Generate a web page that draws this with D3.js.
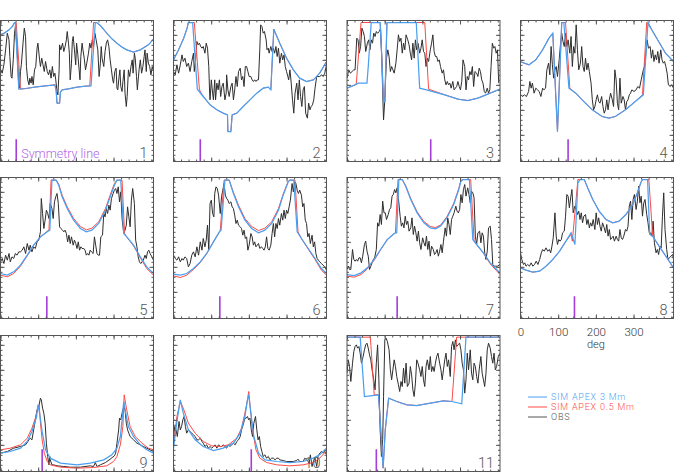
<!DOCTYPE html>
<html>
<head>
<meta charset="utf-8">
<script src="https://cdn.jsdelivr.net/npm/d3@7"></script>
<style>
  body { margin: 0; background: #fff; }
  text { font-family: Roboto, 'DejaVu Sans', sans-serif; font-weight: 300; }
</style>
</head>
<body>
<svg width="692" height="472"></svg>
<script>
// intensity is in arbitrary counts, angle in degrees
const obsDeg1 = [0,4,8,12,16,20,22,25,27,30,33,35,39,43,45,47,49,53,56,59,61,64,67,69,72,74,77,80,83,86,88,92,94,97,100,103,106,110,113,116,119,122,125,128,130,133,135,138,139,142,146,149,152,155,157,160,162,164,167,169,171,174,177,179,182,185,187,189,192,194,197,200,203,207,210,213,216,219,222,225,229,232,235,237,239,243,246,249,252,255,258,261,264,266,269,272,274,276,279,281,283,286,288,291,293,296,298,301,304,307,310,312,315,317,320,322,326,329,332,335,338,340,343,345,348,351,354,357,360]
const obsVal1 = [275,265,290,335,385,365,315,255,250,305,385,405,335,225,220,270,290,355,400,375,285,245,230,250,235,255,230,275,285,340,355,305,285,310,290,270,300,270,260,275,250,285,255,265,245,210,200,275,350,335,355,330,345,365,390,355,325,245,295,360,375,335,290,355,320,275,245,315,355,335,310,275,295,325,355,340,365,345,385,365,335,255,295,345,310,285,330,355,365,345,305,275,245,235,270,280,220,215,255,275,225,210,240,275,205,165,195,275,255,285,305,265,325,310,255,215,275,305,265,285,315,335,270,325,295,285,260,285,270]
const sim3_1 = [[0,380],[10,386],[20,395],[28,405],[33,417],[35,417],[43,217],[60,219],[80,223],[100,226],[128,230],[131,212],[133,175],[139,175],[141,208],[145,215],[160,218],[180,223],[200,226],[213,227],[223,417],[226,417],[235,408],[250,385],[262,368],[274,355],[286,343],[297,335],[313,328],[329,335],[348,350],[360,367]]
const sim05_1 = [[0,380],[10,386],[20,395],[28,405],[33,417],[37,417],[47,217],[60,219],[80,223],[100,226],[128,230],[131,212],[133,175],[139,175],[141,208],[145,215],[160,218],[180,223],[200,226],[210,227],[219,417],[226,417],[235,408],[250,385],[262,368],[274,355],[286,343],[297,335],[313,328],[329,335],[348,350],[360,367]]

const obsDeg2 = [0,4,8,12,16,20,23,27,31,35,39,43,47,49,52,55,58,61,64,67,70,74,77,80,83,85,86,89,92,94,97,99,102,105,108,111,114,117,121,124,125,128,131,135,138,141,144,147,150,153,157,160,163,166,169,172,175,178,182,185,188,191,194,197,200,203,205,208,211,214,218,220,223,225,229,232,235,238,241,244,247,250,254,257,260,263,266,269,271,274,277,280,283,286,290,293,296,299,302,305,308,311,315,318,321,324,327,330,333,337,340,344,349,352,356,360]
const obsVal2 = [270,260,290,265,290,320,300,310,285,295,270,300,325,270,305,360,350,355,345,340,345,325,355,340,285,205,185,245,205,185,245,185,235,215,245,195,225,235,185,205,260,215,195,225,235,185,215,255,225,270,280,245,255,225,285,285,270,255,255,245,240,245,240,245,245,335,410,405,385,390,365,335,340,325,345,330,340,325,345,315,340,295,325,305,320,285,270,255,245,275,235,185,145,205,235,185,245,195,165,215,225,145,130,175,155,165,170,185,220,255,255,255,260,255,265,290]
const sim3_2 = [[0,305],[12,335],[24,370],[32,400],[35,417],[45,417],[56,217],[70,195],[86,170],[102,155],[117,145],[127,140],[128,90],[135,90],[138,140],[149,145],[164,165],[180,185],[196,205],[211,220],[223,223],[229,215],[236,397],[250,355],[266,310],[282,275],[297,250],[313,240],[329,245],[344,265],[360,300]]
const sim05_2 = [[0,305],[12,335],[24,370],[32,400],[35,417],[49,417],[61,215],[70,195],[86,170],[102,155],[117,145],[127,140],[128,90],[135,90],[138,140],[149,145],[164,165],[180,185],[196,205],[211,220],[223,223],[229,215],[236,397],[250,355],[266,310],[282,275],[297,250],[313,240],[329,245],[344,265],[360,300]]

const obsDeg3 = [0,4,8,12,16,19,23,26,29,32,35,38,41,44,48,51,54,57,60,63,66,69,72,76,79,82,84,86,89,91,93,96,99,102,105,108,111,115,118,121,124,127,130,133,136,139,143,146,149,152,155,158,161,164,167,171,174,177,180,183,186,189,192,196,199,202,205,208,211,214,217,220,224,227,230,233,236,239,242,245,249,252,255,258,261,264,267,270,273,277,280,283,286,289,292,295,298,301,305,308,311,314,317,320,323,326,330,333,336,339,342,345,348,351,354,357]
const obsVal3 = [250,275,265,270,275,275,370,365,325,345,400,390,375,330,355,365,335,365,355,385,375,390,385,390,400,305,205,125,185,255,310,335,315,270,285,275,265,295,335,380,360,370,325,355,335,380,365,350,325,305,355,310,365,335,355,325,340,365,330,325,285,310,300,335,355,380,330,315,315,300,305,285,265,275,245,230,240,230,235,220,240,215,220,225,240,225,215,240,305,285,215,255,245,270,260,285,225,270,265,255,280,270,245,235,210,205,220,205,215,285,355,340,345,325,335,235]
const sim3_3 = [[0,220],[19,230],[27,235],[47,235],[50,285],[57,417],[78,417],[81,335],[86,180],[89,180],[94,417],[163,417],[171,220],[187,215],[230,200],[261,187],[284,183],[308,190],[327,200],[360,217]]
const sim05_3 = [[0,220],[19,230],[22,235],[33,417],[78,417],[81,335],[86,180],[89,180],[94,417],[183,417],[192,217],[230,200],[261,187],[284,183],[308,190],[327,200],[360,217]]

const obsDeg4 = [0,5,9,14,19,22,25,28,32,36,40,44,48,52,55,59,62,66,69,72,75,78,81,84,87,91,94,97,100,103,106,109,112,116,119,122,125,128,131,134,137,141,144,147,150,153,156,159,162,166,169,172,175,178,181,184,187,191,194,197,200,203,206,209,212,216,219,222,225,228,231,234,237,241,244,247,250,253,256,259,262,267,272,276,280,284,289,292,295,298,301,305,308,311,314,317,320,323,326,330,333,336,339,342,345,348,352,356,360]
const obsVal4 = [200,195,200,195,210,240,220,235,205,220,215,210,195,220,215,220,275,295,260,345,290,250,275,285,255,305,350,385,360,345,385,345,365,325,375,285,345,325,410,335,275,295,345,285,270,310,275,295,270,235,185,155,165,185,200,180,175,195,165,145,155,185,155,185,205,185,165,275,245,175,155,250,175,195,185,155,180,185,200,205,215,210,215,225,220,245,275,285,325,365,340,345,310,335,300,320,305,330,295,335,305,295,300,285,265,230,225,230,220]
const sim3_4 = [[0,300],[9,295],[20,290],[36,305],[52,335],[67,370],[76,385],[87,90],[97,417],[102,417],[114,220],[130,205],[145,185],[169,155],[192,135],[208,130],[223,135],[247,155],[270,180],[289,200],[300,417],[309,395],[325,360],[341,325],[360,300]]
const sim05_4 = [[0,300],[9,295],[20,290],[36,305],[52,335],[67,370],[76,385],[87,90],[97,417],[106,417],[116,220],[130,205],[145,185],[169,155],[192,135],[208,130],[223,135],[247,155],[270,180],[287,200],[297,417],[309,395],[325,360],[341,325],[360,300]]

const obsDeg5 = [0,4,8,12,16,20,23,27,31,35,39,43,47,51,55,59,63,67,70,74,78,82,86,90,94,96,99,102,105,108,111,114,117,121,124,127,130,133,136,139,142,146,149,152,155,158,161,164,167,171,174,177,180,183,186,189,192,196,199,202,205,208,211,214,218,221,224,227,230,233,236,240,243,246,249,252,255,258,261,265,268,271,274,277,280,283,286,290,293,296,299,302,305,308,311,315,318,321,324,327,330,333,336,340,343,346,349,352,356,360]
const obsVal5 = [170,180,165,190,175,195,170,185,180,195,190,200,200,205,215,195,225,205,220,200,215,210,230,235,260,360,315,270,295,325,315,300,345,330,300,350,365,375,345,275,270,265,260,265,255,230,250,225,245,220,235,225,210,230,205,215,210,210,205,190,195,190,205,200,195,245,220,195,190,190,245,250,315,305,330,315,340,325,360,375,385,390,375,395,350,380,300,255,265,280,335,305,275,355,390,345,235,215,185,170,165,170,175,190,180,200,205,195,185,175]
const sim3_5 = [[0,135],[16,130],[31,140],[47,160],[63,190],[78,220],[94,245],[110,260],[116,265],[121,415],[131,415],[137,400],[145,365],[157,330],[172,295],[188,270],[202,260],[215,265],[231,285],[247,325],[258,365],[268,400],[274,415],[283,415],[290,255],[297,245],[313,220],[329,185],[344,155],[360,135]]
const sim05_5 = [[0,130],[16,125],[31,135],[47,157],[63,188],[78,220],[94,245],[110,262],[114,265],[119,415],[131,415],[137,403],[145,370],[157,335],[172,300],[188,276],[202,266],[215,271],[231,290],[247,330],[258,370],[268,405],[274,415],[286,415],[292,255],[297,245],[313,218],[329,182],[344,150],[360,130]]

const obsDeg6 = [0,4,8,12,16,20,23,27,31,35,39,43,47,51,55,59,63,67,70,74,77,80,83,86,89,92,95,97,100,103,106,110,113,116,119,122,125,128,131,135,138,141,144,147,150,153,157,160,163,166,169,172,175,178,182,185,188,191,194,197,200,203,207,210,213,216,219,222,225,229,232,235,238,241,244,247,250,254,257,260,263,266,269,272,275,279,282,285,288,291,294,297,301,304,307,310,313,316,319,322,326,329,332,335,338,341,344,348,352,356,360]
const obsVal6 = [190,180,175,185,170,180,175,185,180,155,165,190,200,185,215,190,230,205,240,215,235,280,205,345,355,315,305,375,395,390,370,315,365,385,405,370,360,355,345,350,335,330,310,285,295,280,275,270,250,265,240,245,205,220,255,245,220,230,215,220,225,210,215,210,205,215,245,210,205,220,255,285,245,285,270,300,280,315,295,325,300,325,315,335,355,405,380,410,405,385,375,385,370,335,345,295,285,245,255,225,250,215,230,195,180,175,170,165,160,155,145]
const sim3_6 = [[0,133],[16,130],[31,135],[47,150],[63,170],[78,195],[94,230],[108,260],[112,265],[121,415],[131,415],[141,375],[153,335],[168,295],[184,270],[200,257],[215,265],[231,285],[247,325],[258,370],[270,410],[274,415],[283,415],[291,260],[301,240],[317,210],[333,180],[348,150],[360,135]]
const sim05_6 = [[0,128],[16,123],[31,130],[47,147],[63,168],[78,194],[94,230],[108,260],[110,265],[119,415],[131,415],[141,378],[153,340],[168,300],[184,276],[200,264],[215,271],[231,290],[247,330],[258,373],[270,412],[274,415],[286,415],[293,260],[301,240],[317,208],[333,177],[348,145],[360,130]]

const obsDeg7 = [0,3,6,9,13,16,19,22,25,28,31,34,37,41,44,47,50,53,56,59,62,65,69,72,75,78,81,84,87,90,93,97,100,103,106,109,112,115,118,122,125,128,131,134,137,140,143,146,150,153,156,159,162,165,168,171,174,178,181,184,187,190,193,196,199,203,206,209,212,215,218,221,224,227,231,234,237,240,243,246,249,252,256,259,262,265,268,271,274,277,280,284,287,290,293,296,299,302,305,308,312,315,318,321,324,327,330,333,337,340,343,346,349,354,360]
const obsVal7 = [147,157,147,147,207,177,172,177,172,182,182,167,187,222,232,202,187,147,157,167,177,182,207,287,277,312,282,352,317,317,297,312,327,332,367,372,387,377,392,347,307,277,287,272,307,282,292,262,272,302,252,277,257,232,262,227,207,242,227,217,247,207,232,187,217,207,192,197,207,187,202,222,197,232,272,247,302,282,252,297,307,317,337,322,317,327,372,347,387,402,367,392,372,347,382,377,362,247,222,257,262,227,257,247,197,177,202,272,277,237,162,157,157,157,162]
const sim3_7 = [[0,132],[17,129],[33,137],[48,152],[64,177],[79,207],[95,237],[111,255],[117,257],[122,417],[130,417],[138,397],[150,357],[165,317],[181,287],[196,272],[208,269],[220,277],[235,302],[251,342],[263,387],[268,412],[273,417],[288,417],[296,237],[305,222],[321,197],[337,167],[352,147],[360,137]]
const sim05_7 = [[0,127],[17,124],[33,132],[48,149],[64,175],[79,206],[95,237],[111,255],[114,257],[120,417],[130,417],[138,399],[150,360],[165,320],[181,291],[196,276],[208,273],[220,280],[235,305],[251,345],[263,390],[268,414],[273,417],[291,417],[299,235],[305,222],[321,196],[337,164],[352,143],[360,132]]

const obsDeg8 = [0,3,7,10,13,17,21,25,29,33,37,41,45,49,52,56,60,64,68,71,74,77,81,84,87,90,93,96,99,103,106,109,112,115,118,121,124,128,131,134,137,140,143,146,149,153,156,159,162,165,168,171,175,178,181,184,187,190,193,197,200,203,206,209,212,215,218,221,225,228,231,234,237,240,243,247,250,253,256,259,262,265,268,272,275,278,281,284,287,290,293,297,300,303,306,309,312,315,319,322,325,328,331,334,337,340,344,347,350,354,358,360]
const obsVal8 = [197,177,162,167,157,162,157,167,157,162,172,162,177,197,207,202,212,202,207,197,217,242,317,247,222,237,232,237,257,262,307,372,367,332,362,387,317,337,327,312,322,297,317,287,307,312,282,297,272,287,277,297,267,317,282,302,277,262,287,272,257,282,247,267,237,242,247,232,247,237,232,267,242,237,247,267,262,277,337,352,297,357,372,327,352,397,347,367,307,347,357,312,287,257,257,247,292,227,197,207,192,217,212,307,377,267,207,177,182,187,192,177]
const sim3_8 = [[0,152],[13,145],[29,139],[45,142],[60,157],[76,177],[92,202],[107,232],[119,257],[128,222],[135,407],[140,417],[150,417],[158,392],[170,357],[185,322],[201,297],[217,287],[232,292],[248,312],[264,342],[275,377],[283,407],[287,417],[299,417],[304,252],[311,247],[326,217],[342,187],[360,152]]
const sim05_8 = [[0,152],[13,145],[29,139],[45,142],[60,157],[76,177],[92,202],[107,232],[119,252],[122,232],[135,417],[150,417],[158,392],[170,357],[185,322],[201,297],[217,287],[232,292],[248,312],[264,342],[275,377],[283,407],[287,417],[302,417],[311,247],[326,217],[342,187],[360,152]]

const obsDeg9 = [0,16,31,47,59,67,70,74,78,82,86,90,94,96,99,102,105,108,111,114,116,117,121,125,133,149,164,188,211,219,223,227,235,247,258,268,271,274,278,280,283,286,290,293,296,299,302,305,309,313,321,329,344,360]
const obsVal9 = [55,60,70,75,80,95,100,95,125,155,185,195,220,215,190,175,145,85,45,20,45,35,20,20,17,15,13,13,17,15,27,15,20,27,37,47,55,85,125,160,155,175,195,185,145,125,115,105,100,95,85,80,70,60]
const sim3_9 = [[0,55],[23,60],[47,70],[63,90],[74,120],[85,165],[88,200],[92,175],[98,120],[106,65],[117,40],[141,25],[180,20],[211,25],[243,35],[262,50],[274,70],[282,105],[286,155],[290,210],[294,180],[301,135],[313,105],[329,80],[344,65],[360,55]]
const sim05_9 = [[0,65],[23,70],[47,80],[63,100],[74,130],[82,160],[88,190],[91,200],[94,145],[98,95],[103,55],[110,30],[117,20],[141,13],[180,10],[219,12],[250,17],[266,30],[274,45],[282,80],[288,135],[291,230],[297,185],[305,135],[317,105],[333,85],[348,70],[360,65]]

const obsDeg10 = [0,3,6,9,13,16,19,22,25,28,31,35,39,43,47,51,55,59,63,67,70,74,78,82,86,90,94,98,102,106,110,113,117,121,125,129,133,137,141,145,149,153,157,160,164,168,171,174,177,180,183,186,189,193,196,199,202,205,208,211,215,219,223,227,231,235,239,243,247,250,258,266,274,282,290,293,297,305,309,313,317,319,321,322,326,329,333,337,340,344,348,352,356,360]
const obsVal10 = [105,135,125,105,150,125,135,155,165,135,115,125,120,115,110,105,95,95,100,90,85,75,80,70,75,70,75,80,70,80,75,75,80,75,70,80,75,80,85,80,90,95,105,125,140,160,160,165,155,160,125,105,145,165,125,95,105,75,60,45,50,40,45,35,40,40,35,40,40,35,33,30,30,30,33,37,30,30,40,35,30,25,40,50,15,30,40,15,45,55,60,55,60,50]
const sim3_10 = [[0,70],[8,150],[16,215],[23,175],[35,125],[51,95],[70,75],[94,63],[117,70],[141,85],[157,115],[168,165],[174,215],[177,230],[182,175],[189,105],[200,55],[215,35],[243,30],[274,27],[305,30],[329,40],[344,50],[360,70]]
const sim05_10 = [[0,80],[8,165],[16,210],[23,190],[35,145],[51,115],[70,90],[90,77],[110,75],[129,80],[149,100],[160,130],[168,175],[174,215],[177,240],[180,200],[186,125],[194,65],[203,40],[219,27],[243,20],[274,17],[305,20],[329,27],[344,40],[360,62]]

const obsDeg11 = [0,3,6,9,13,16,19,22,25,28,31,34,38,41,44,47,50,53,56,59,63,66,69,72,75,78,81,84,86,89,92,95,99,102,105,108,111,114,117,121,124,127,130,133,136,139,142,146,149,152,155,158,161,164,167,171,174,177,180,183,186,189,193,196,199,202,205,208,211,214,218,221,224,227,230,233,236,239,243,246,249,252,255,258,261,265,268,271,274,277,280,283,286,290,293,296,299,302,305,308,311,315,318,321,324,327,330,333,337,340,343,346,349,352,356,360]
const obsVal11 = [295,335,315,270,325,360,375,380,370,375,355,325,345,365,380,385,370,350,335,305,275,245,325,380,275,125,45,95,225,395,400,390,365,305,275,305,335,315,285,260,240,270,255,310,265,325,255,265,315,290,245,225,265,335,325,305,285,315,275,255,315,335,305,345,300,315,300,325,345,355,325,305,275,305,335,355,315,335,285,375,390,365,395,375,380,385,365,325,305,235,275,355,305,365,295,275,325,315,285,265,305,345,295,275,255,295,365,385,370,345,325,355,305,315,345,355]
const sim3_11 = [[0,403],[31,403],[41,225],[55,227],[74,230],[77,175],[85,10],[90,125],[98,220],[117,210],[141,200],[164,198],[196,205],[227,212],[247,210],[270,203],[280,403],[360,403]]
const sim05_11 = [[0,403],[55,403],[64,230],[74,230],[77,175],[85,10],[90,125],[98,220],[117,210],[141,200],[164,198],[196,205],[227,212],[247,210],[258,403],[360,403]]

// symmetry line longitude for each panel, degrees
const symmetry = [37, 63, 197, 112, 109, 109, 118, 127, 98, 183, 69]
const symLength = 67

// the frame axis runs a little past the sampled range
const axisMax = 406
const xLabelTicks = [0, 100, 200, 300]
const xMinorStep = 20
const yMajorTicks = [80, 155, 230, 305, 380]
const yMinorStep = 15

const legendLabels = ['SIM APEX 3 Mm', 'SIM APEX 0.5 Mm', 'OBS']

const blue = '#4a9ff0', red = '#ff4a44', obsColor = '#2e2e2e', purple = '#a23ed9', frame = '#555'
const legendColors = [blue, red, '#555']

const colLeft = [0.5, 173.5, 347, 520.5]
const rowTop = [20.5, 177.5, 335.5]
const rowHeight = [141, 141, 136]
const rowRange = [423, 423, 408]
const panelWidth = 153

const panels = [
  [obsDeg1, obsVal1, sim3_1, sim05_1],
  [obsDeg2, obsVal2, sim3_2, sim05_2],
  [obsDeg3, obsVal3, sim3_3, sim05_3],
  [obsDeg4, obsVal4, sim3_4, sim05_4],
  [obsDeg5, obsVal5, sim3_5, sim05_5],
  [obsDeg6, obsVal6, sim3_6, sim05_6],
  [obsDeg7, obsVal7, sim3_7, sim05_7],
  [obsDeg8, obsVal8, sim3_8, sim05_8],
  [obsDeg9, obsVal9, sim3_9, sim05_9],
  [obsDeg10, obsVal10, sim3_10, sim05_10],
  [obsDeg11, obsVal11, sim3_11, sim05_11]
]

const svg = d3.select('svg')
const defs = svg.append('defs')

panels.forEach(function(p, i) {
  const col = i % 4,
    row = Math.floor(i / 4)
  const x0 = colLeft[col],
    y0 = rowTop[row],
    h = rowHeight[row]

  const x = d3.scaleLinear().domain([0, 360]).range([x0, x0 + panelWidth])
  const xAxisScale = d3.scaleLinear().domain([0, axisMax]).range([x0, x0 + panelWidth])
  const y = d3.scaleLinear().domain([0, rowRange[row]]).range([y0 + h, y0])

  defs
    .append('clipPath')
    .attr('id', 'clip' + i)
    .append('rect')
    .attr('x', x0)
    .attr('y', y0)
    .attr('width', panelWidth)
    .attr('height', h)

  const line = d3
    .line()
    .x(d => x(d[0]))
    .y(d => y(d[1]))

  const g = svg.append('g')
  const plot = g.append('g').attr('clip-path', 'url(#clip' + i + ')')

  plot
    .append('path')
    .datum(d3.zip(p[0], p[1]))
    .attr('d', line)
    .attr('fill', 'none')
    .attr('stroke', obsColor)
    .attr('stroke-width', 1)
  plot
    .append('path')
    .datum(p[3])
    .attr('d', line)
    .attr('fill', 'none')
    .attr('stroke', red)
    .attr('stroke-width', 1)
  plot
    .append('path')
    .datum(p[2])
    .attr('d', line)
    .attr('fill', 'none')
    .attr('stroke', blue)
    .attr('stroke-width', 1.25)

  plot
    .append('line')
    .attr('x1', x(symmetry[i]))
    .attr('x2', x(symmetry[i]))
    .attr('y1', y(0))
    .attr('y2', y(symLength))
    .attr('stroke', purple)
    .attr('stroke-width', 1.6)

  g.append('rect')
    .attr('x', x0)
    .attr('y', y0)
    .attr('width', panelWidth)
    .attr('height', h)
    .attr('fill', 'none')
    .attr('stroke', frame)
    .attr('stroke-width', 1)

  // inward ticks on all four sides
  const xMinor = d3.range(0, axisMax, xMinorStep)
  const yMinor = d3.range(5, rowRange[row], yMinorStep)
  const addAxis = function(axis, tx, ty) {
    g.append('g')
      .attr('transform', 'translate(' + tx + ',' + ty + ')')
      .call(axis)
      .call(s => s.select('.domain').remove())
      .call(s => s.selectAll('text').remove())
      .call(s => s.selectAll('line').attr('stroke', frame))
  }
  ;[[xLabelTicks, 4], [xMinor, 2]].forEach(function(t) {
    addAxis(d3.axisBottom(xAxisScale).tickValues(t[0]).tickSize(-t[1]).tickFormat(''), 0, y0 + h)
    addAxis(d3.axisTop(xAxisScale).tickValues(t[0]).tickSize(-t[1]).tickFormat(''), 0, y0)
  })
  ;[[yMajorTicks, 4], [yMinor, 2]].forEach(function(t) {
    addAxis(d3.axisLeft(y).tickValues(t[0]).tickSize(-t[1]).tickFormat(''), x0, 0)
    addAxis(d3.axisRight(y).tickValues(t[0]).tickSize(-t[1]).tickFormat(''), x0 + panelWidth, 0)
  })

  g.append('text')
    .attr('x', x0 + panelWidth - 6)
    .attr('y', y0 + h - 3.5)
    .attr('text-anchor', 'end')
    .attr('font-size', 14.5)
    .attr('fill', '#555')
    .text(i + 1)

  if (i === 0) {
    g.append('text')
      .attr('x', x(symmetry[i]) + 5)
      .attr('y', y0 + h - 3.5)
      .attr('font-size', 12.5)
      .attr('fill', '#b463e6')
      .text('Symmetry line')
  }

  // labelled longitude axis under panel 8
  if (i === 7) {
    const ax = svg
      .append('g')
      .attr('transform', 'translate(0,' + (y0 + h) + ')')
      .call(d3.axisBottom(xAxisScale).tickValues(xLabelTicks).tickSize(0).tickPadding(9))
    ax.select('.domain').remove()
    ax.selectAll('text')
      .attr('font-size', 11.5)
      .attr('fill', '#333')
      .style('font-family', 'Roboto, sans-serif')
      .style('font-weight', 300)
    svg
      .append('text')
      .attr('x', xAxisScale(200))
      .attr('y', y0 + h + 29)
      .attr('text-anchor', 'middle')
      .attr('font-size', 11)
      .attr('fill', '#333')
      .text('deg')
  }
})

// legend
const legend = svg
  .append('g')
  .selectAll('g')
  .data(legendLabels)
  .enter()
  .append('g')
  .attr('transform', (d, i) => 'translate(528,' + (397 + i * 10) + ')')
legend
  .append('line')
  .attr('x1', 0)
  .attr('x2', 19)
  .attr('stroke', (d, i) => legendColors[i])
  .attr('stroke-width', 1)
legend
  .append('text')
  .attr('x', 23)
  .attr('dy', '0.35em')
  .attr('font-size', 9)
  .attr('letter-spacing', 0.8)
  .attr('fill', (d, i) => legendColors[i])
  .text(d => d)
</script>
</body>
</html>
